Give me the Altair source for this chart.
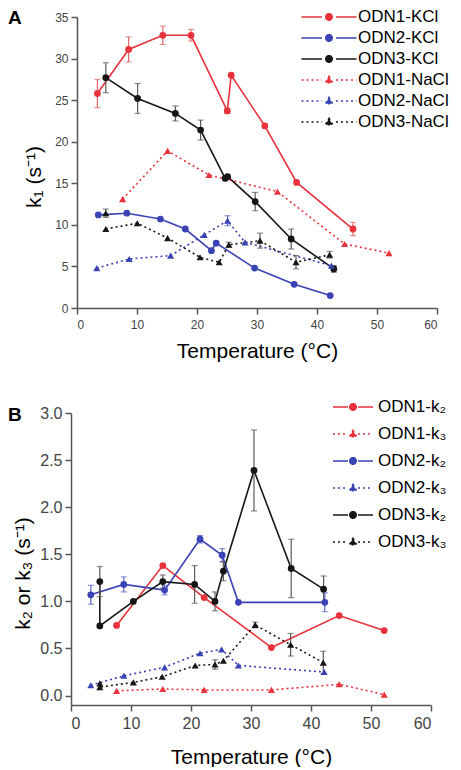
import altair as alt
import pandas as pd

FONT = "Liberation Sans"
RED, BLUE, BLACK = "#e8323c", "#3a42b4", "#161616"
RED_E, BLUE_E, BLACK_E = "#e26a6a", "#5b63c4", "#5a5a5a"

# ---------------- Panel A : k1 ----------------
a_names = ["ODN1-KCl", "ODN2-KCl", "ODN3-KCl", "ODN1-NaCl", "ODN2-NaCl", "ODN3-NaCl"]
a1k_T = [3.4, 8.6, 14.3, 19.0, 25.05, 25.7, 31.3, 36.6, 46.0]
a1k_k = [25.8, 31.1, 32.8, 32.8, 23.7, 28.0, 21.9, 15.1, 9.5]
a1k_e = [1.7, 1.5, 1.1, 0.7, 0.3, 0.0, 0.0, 0.0, 0.8]
a2k_T = [3.55, 8.3, 13.9, 18.05, 22.4, 23.2, 29.6, 36.2, 42.2]
a2k_k = [11.2, 11.4, 10.7, 9.5, 6.9, 7.8, 4.8, 2.85, 1.5]
a2k_e = [0, 0, 0, 0, 0, 0, 0, 0, 0]
a3k_T = [4.8, 10.1, 16.4, 20.6, 24.7, 25.1, 29.7, 35.7, 42.8]
a3k_k = [27.7, 25.2, 23.4, 21.4, 15.6, 15.8, 12.8, 8.3, 4.7]
a3k_e = [1.8, 1.8, 0.9, 1.2, 0.3, 0.0, 1.1, 1.2, 0.4]
a1n_T = [7.6, 15.1, 22.0, 33.4, 44.6, 52.0]
a1n_k = [13.1, 18.9, 16.0, 14.0, 7.7, 6.6]
a1n_e = [0, 0, 0, 0, 0, 0]
a2n_T = [3.3, 8.7, 15.6, 21.2, 25.1, 28.0, 42.4]
a2n_k = [4.8, 5.9, 6.3, 8.8, 10.5, 7.9, 5.1]
a2n_e = [0, 0, 0, 0, 0.6, 0, 0]
a3n_T = [4.8, 4.8, 10.05, 15.1, 20.5, 23.7, 25.3, 30.5, 36.5, 42.1]
a3n_k = [11.4, 9.5, 10.2, 8.4, 6.1, 5.5, 7.6, 8.1, 5.5, 6.4]
a3n_e = [0.5, 0, 0, 0, 0, 0, 0.3, 0.9, 0.8, 0.4]
a3n_seg = [1, 0, 0, 0, 0, 0, 0, 0, 0, 0]

# ---------------- Panel B : k2 / k3 ----------------
b_names = ["ODN1-k₂", "ODN1-k₃", "ODN2-k₂", "ODN2-k₃", "ODN3-k₂", "ODN3-k₃"]
b12_T = [7.6, 15.3, 22.2, 33.4, 44.7, 52.2]
b12_k = [0.745, 1.38, 1.04, 0.51, 0.85, 0.69]
b12_e = [0, 0, 0, 0, 0, 0]
b13_T = [7.6, 15.3, 22.2, 33.4, 44.7, 52.2]
b13_k = [0.05, 0.07, 0.06, 0.06, 0.12, 0.01]
b13_e = [0, 0, 0, 0, 0, 0]
b22_T = [3.3, 8.8, 15.6, 21.5, 25.2, 27.9, 42.3]
b22_k = [1.07, 1.18, 1.12, 1.66, 1.49, 0.99, 0.99]
b22_e = [0.1, 0.08, 0.05, 0.04, 0.07, 0, 0.1]
b23_T = [3.3, 8.8, 15.6, 21.5, 25.1, 27.9, 42.2]
b23_k = [0.11, 0.21, 0.30, 0.45, 0.49, 0.32, 0.25]
b23_e = [0, 0, 0, 0, 0, 0, 0]
b32_T = [4.8, 4.8, 10.4, 15.3, 20.6, 24.0, 25.4, 30.5, 36.7, 42.1]
b32_k = [1.21, 0.74, 1.0, 1.21, 1.18, 1.0, 1.32, 2.39, 1.35, 1.13]
b32_e = [0.16, 0, 0, 0.07, 0.2, 0.1, 0.1, 0.43, 0.31, 0.14]
b33_T = [4.8, 4.8, 10.4, 15.2, 20.7, 24.0, 25.4, 30.7, 36.6, 42.05]
b33_k = [0.13, 0.09, 0.14, 0.20, 0.32, 0.33, 0.37, 0.75, 0.54, 0.35]
b33_e = [0, 0, 0, 0, 0, 0.05, 0, 0.03, 0.12, 0.12]

colors = [RED, BLUE, BLACK, RED, BLUE, BLACK]
ecolors = [RED_E, BLUE_E, BLACK_E, RED_E, BLUE_E, BLACK_E]
b_colors = [RED, RED, BLUE, BLUE, BLACK, BLACK]
b_ecolors = [RED_E, RED_E, BLUE_E, BLUE_E, BLACK_E, BLACK_E]
a_kind = ["solid", "solid", "solid", "dot", "dot", "dot"]
b_kind = ["solid", "dot", "solid", "dot", "solid", "dot"]


def frame(sfield, names, Ts, ks, es, segs, cols, ecols, kinds):
    rows = []
    for n, T, k, e, s, c, ec, kd in zip(names, Ts, ks, es, segs, cols, ecols, kinds):
        for i in range(len(T)):
            rows.append({sfield: n, "T": T[i], "k": k[i], "lo": k[i] - e[i], "hi": k[i] + e[i],
                         "e": e[i], "idx": i, "grp": f"{n}_{s[i]}", "col": c, "ecol": ec,
                         "kind": kd})
    return pd.DataFrame(rows)


z = lambda T: [0] * len(T)
dfA = frame("sA", a_names,
            [a1k_T, a2k_T, a3k_T, a1n_T, a2n_T, a3n_T],
            [a1k_k, a2k_k, a3k_k, a1n_k, a2n_k, a3n_k],
            [a1k_e, a2k_e, a3k_e, a1n_e, a2n_e, a3n_e],
            [z(a1k_T), z(a2k_T), z(a3k_T), z(a1n_T), z(a2n_T), a3n_seg],
            colors, ecolors, a_kind)
dfB = frame("sB", b_names,
            [b12_T, b13_T, b22_T, b23_T, b32_T, b33_T],
            [b12_k, b13_k, b22_k, b23_k, b32_k, b33_k],
            [b12_e, b13_e, b22_e, b23_e, b32_e, b33_e],
            [z(b12_T), z(b13_T), z(b22_T), z(b23_T), z(b32_T), z(b33_T)],
            b_colors, b_ecolors, b_kind)

DOT = [2, 3]


def legend_paths(L, r, gap, th, tt, tb):
    circ = (f"M-{L},0L-{gap},0M{gap},0L{L},0M-{r},0A{r},{r},0,1,0,{r},0"
            f"A{r},{r},0,1,0,-{r},0Z")
    tri = f"M-{L},0L-{gap},0M{gap},0L{L},0M0,-{tt}L{th},{tb}L-{th},{tb}Z"
    return circ, tri


def panel(df, sfield, names, cols, kinds, ydom, yvals, ytest, yfmt, w, xrange, yoffset, h,
          ytitle, lab, labx, laby, legx, legy, rowpad, laboff, paths,
          tick_fs, title_fs, ytitleX, xtitleY, xlabpad):
    base = alt.Chart(df)
    xax = alt.Axis(values=list(range(0, 61, 5)),
                   labelExpr="datum.value % 10 === 0 ? datum.label : ''",
                   tickSize={"condition": {"test": "datum.value % 10 !== 0", "value": 3}, "value": 6},
                   title="Temperature (°C)", titleY=xtitleY, titleBaseline="alphabetic",
                   labelFontSize=tick_fs, titleFontSize=title_fs, labelPadding=xlabpad)
    yax = alt.Axis(values=yvals, format=yfmt, offset=yoffset,
                   labelExpr=f"({ytest}) ? '' : datum.label",
                   tickSize={"condition": {"test": ytest, "value": 3}, "value": 6},
                   title=ytitle, titleX=ytitleX, titleY=h / 2 + 14, titleBaseline="alphabetic",
                   labelFontSize=tick_fs, titleFontSize=title_fs, labelPadding=3)
    X = alt.X("T:Q", scale=alt.Scale(domain=[0, 60], range=xrange, nice=False), axis=xax)
    Y = alt.Y("k:Q", scale=alt.Scale(domain=ydom, nice=False, zero=False), axis=yax)
    C = alt.Color("col:N", scale=None)

    solid = base.transform_filter("datum.kind === 'solid'").mark_line(strokeWidth=1.6).encode(
        x=X, y=Y, color=C, detail="grp:N", order="idx:Q")
    dotted = base.transform_filter("datum.kind === 'dot'").mark_line(
        strokeWidth=1.6, strokeDash=DOT).encode(x=X, y=Y, color=C, detail="grp:N", order="idx:Q")
    eb = base.transform_filter("datum.e > 0")
    EC = alt.Color("ecol:N", scale=None)
    erule = eb.mark_rule(strokeWidth=1.2).encode(x="T:Q", y="lo:Q", y2="hi:Q", color=EC)
    ecap_lo = eb.mark_tick(orient="horizontal", size=6, thickness=1.2).encode(
        x="T:Q", y="lo:Q", color=EC)
    ecap_hi = eb.mark_tick(orient="horizontal", size=6, thickness=1.2).encode(
        x="T:Q", y="hi:Q", color=EC)
    circ = base.transform_filter("datum.kind === 'solid'").mark_point(
        shape="circle", filled=True, size=46, opacity=1).encode(x=X, y=Y, color=C)
    tri = base.transform_filter("datum.kind === 'dot'").mark_point(
        shape="triangle-up", filled=True, size=50, opacity=1).encode(x=X, y=Y, color=C)

    leg = alt.Legend(title=None, orient="none", legendX=legx, legendY=legy,
                     labelFont=FONT, labelFontSize=17, labelColor="black",
                     labelOffset=laboff, rowPadding=rowpad, symbolSize=256,
                     symbolStrokeWidth=1.6, symbolOpacity=1, padding=0, labelLimit=200)
    shp = [paths[0] if kd == "solid" else paths[1] for kd in kinds]
    dsh = [[1, 0] if kd == "solid" else DOT for kd in kinds]
    F = f"{sfield}:N"
    legend_layer = base.transform_filter("false").mark_point().encode(
        fill=alt.Fill(F, scale=alt.Scale(domain=names, range=cols), legend=leg),
        stroke=alt.Stroke(F, scale=alt.Scale(domain=names, range=cols), legend=leg),
        shape=alt.Shape(F, scale=alt.Scale(domain=names, range=shp), legend=leg),
        strokeDash=alt.StrokeDash(F, scale=alt.Scale(domain=names, range=dsh), legend=leg),
    )
    label = alt.Chart(pd.DataFrame({"lab": [lab]})).mark_text(
        align="left", baseline="alphabetic", font=FONT, fontSize=19, fontWeight="bold",
        color="black").encode(x=alt.value(labx), y=alt.value(laby), text="lab:N")
    return alt.layer(solid, dotted, erule, ecap_lo, ecap_hi, circ, tri, legend_layer, label
                     ).properties(width=w, height=h)


pathsA = legend_paths(3.44, 0.4, 0.875, 0.45, 0.45, 0.33)
pathsB = legend_paths(2.5, 0.4, 0.62, 0.45, 0.45, 0.33)

A = panel(dfA, "sA", a_names, colors, a_kind, [0, 35], [x * 2.5 for x in range(15)],
          "datum.value % 5 !== 0", "d", 366, [6, 366], -6, 291, "k₁ (s⁻¹)",
          "A", -63, 7, 249, -9, 4, 20, pathsA, 12, 21, -37, 49, 5)
B = panel(dfB, "sB", b_names, b_colors, b_kind, [-0.1, 3.0], [x * 0.25 for x in range(13)],
          "round(datum.value * 100) % 50 !== 0", ".1f", 360, [0, 360], 0, 292, "k₂ or k₃ (s⁻¹)",
          "B", -63, 8, 273, -15, 10, 16, pathsB, 16, 21, -42, 58, 4)

chart = alt.vconcat(A, B, spacing=37,
                    padding={"left": 0, "top": 0, "right": 0, "bottom": 0}).resolve_scale(
    fill="independent", stroke="independent", shape="independent",
    strokeDash="independent").configure_view(
    stroke=None).configure_axis(
    grid=False, domainColor="#555", domainWidth=1.5, tickColor="#555", tickWidth=1.5,
    labelColor="#444", labelFont=FONT, titleFont=FONT, titleColor="black",
    titleFontWeight="normal")

chart.save("out.html", embed_options={"renderer": "svg", "actions": False})
